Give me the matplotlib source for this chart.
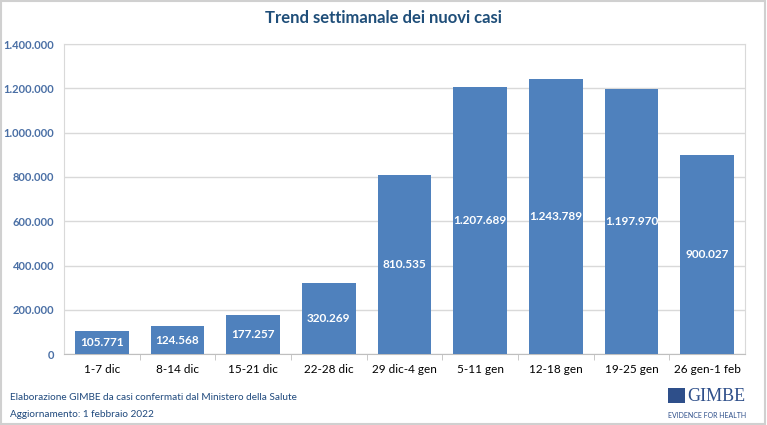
import matplotlib
matplotlib.use("Agg")
import matplotlib.pyplot as plt
from matplotlib.patches import Rectangle
from matplotlib.ticker import FuncFormatter

settimane = ['1-7 dic', '8-14 dic', '15-21 dic', '22-28 dic', '29 dic-4 gen',
             '5-11 gen', '12-18 gen', '19-25 gen', '26 gen-1 feb']
casi = [105771, 124568, 177257, 320269, 810535, 1207689, 1243789, 1197970, 900027]
y_ticks = [0, 200000, 400000, 600000, 800000, 1000000, 1200000, 1400000]

plt.rcParams['font.family'] = ['Lato', 'DejaVu Sans']


def punti(v, pos=None):
    # formato italiano: punto come separatore delle migliaia
    return f"{int(v):,}".replace(",", ".")


fig = plt.figure(figsize=(7.67, 4.25), dpi=100)
ax = fig.add_axes([0.0834, 0.167, 0.888, 0.729])

bars = ax.bar(range(len(casi)), casi, width=0.71, color='#4f81bd', zorder=3)
for i, v in enumerate(casi):
    ax.text(i, v / 2, punti(v), ha='center', va='center', color='white',
            fontsize=8.5, fontweight='bold', zorder=4)

ax.set_xlim(-0.5, len(casi) - 0.5)
ax.set_ylim(0, 1400000)
ax.set_yticks(y_ticks)
ax.yaxis.set_major_formatter(FuncFormatter(punti))
ax.grid(axis='y', color='#d9d9d9', linewidth=1, zorder=0)
ax.tick_params(axis='y', length=0, labelsize=8, labelcolor='#4a6fa5', pad=7)
for t in ax.get_yticklabels():
    t.set_fontweight('bold')

ax.set_xticks([i + 0.5 for i in range(len(casi) - 1)], minor=True)
ax.set_xticks(range(len(casi)))
ax.set_xticklabels(settimane, fontsize=8.5, color='#000000')
ax.tick_params(axis='x', which='major', length=0, pad=7)
ax.tick_params(axis='x', which='minor', length=4, color='#bfbfbf')

for s in ['left', 'right', 'top']:
    ax.spines[s].set_color('#d9d9d9')
ax.spines['bottom'].set_color('#bfbfbf')

fig.text(0.5, 0.958, 'Trend settimanale dei nuovi casi', ha='center', va='center',
         fontsize=12, fontweight='bold', color='#1f4e79')

fig.text(0.013, 0.064, 'Elaborazione GIMBE da casi confermati dal Ministero della Salute',
         fontsize=7.2, color='#1f497d', va='center')
fig.text(0.013, 0.024, 'Aggiornamento: 1 febbraio 2022',
         fontsize=7.2, color='#1f497d', va='center')

# logo GIMBE
fig.patches.append(Rectangle((0.871, 0.052), 0.022, 0.034, transform=fig.transFigure,
                             facecolor='#2e4f8a', edgecolor='none'))
fig.text(0.972, 0.068, 'GIMBE', ha='right', va='center', fontsize=13,
         family='Liberation Serif', color='#2e4f8a')
fig.text(0.973, 0.022, 'EVIDENCE FOR HEALTH', ha='right', va='center', fontsize=5,
         color='#2e4f8a')

# cornice esterna
fig.patches.append(Rectangle((0.001, 0.002), 0.997, 0.995, transform=fig.transFigure,
                             fill=False, edgecolor='#d0d0d0', linewidth=1.5))

fig.savefig('out.png', dpi=100)
